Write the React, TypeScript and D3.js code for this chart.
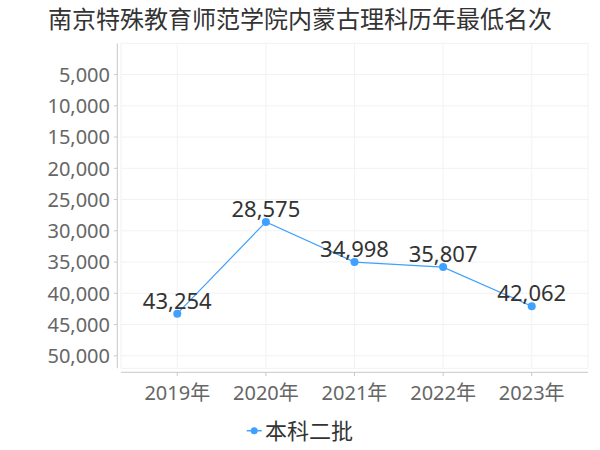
import React from "react";
import * as d3 from "d3";

const title = "南京特殊教育师范学院内蒙古理科历年最低名次";
const categories = ["2019年", "2020年", "2021年", "2022年", "2023年"];
const seriesName = "本科二批";
const values = [43254, 28575, 34998, 35807, 42062];
const yTicks = [5000, 10000, 15000, 20000, 25000, 30000, 35000, 40000, 45000, 50000];

const FONT = "'Noto Sans', 'Noto Sans CJK SC', sans-serif";
const COLOR = "#3fa0ff";

export default function App() {
  const left = 121, right = 588, top = 43.3, bottom = 368.3;
  const x = d3.scalePoint<string>().domain(categories).range([left, right]).padding(0.635);
  const y = d3.scaleLinear().domain([0, 52000]).range([top, bottom]);
  const fmt = d3.format(",");
  const line = d3
    .line<number>()
    .x((_, i) => x(categories[i]) as number)
    .y((d) => y(d));

  return (
    <svg
      width={600}
      height={450}
      style={{ position: "absolute", left: 0, top: 0, background: "#fff" }}
      fontFamily={FONT}
    >
      <text x={300} y={28} textAnchor="middle" fontSize={24} fill="#333">
        {title}
      </text>
      {/* plot frame */}
      <rect x={left} y={top} width={right - left} height={bottom - top} fill="none" stroke="#f2f2f2" />
      {yTicks.map((t) => (
        <line key={"g" + t} x1={left} x2={right} y1={y(t)} y2={y(t)} stroke="#f2f2f2" />
      ))}
      {categories.map((c) => (
        <line key={"v" + c} x1={x(c)} x2={x(c)} y1={top} y2={bottom} stroke="#f2f2f2" />
      ))}
      {/* y axis */}
      <line x1={117.3} x2={117.3} y1={top} y2={bottom} stroke="#c8c8c8" />
      {yTicks.map((t) => (
        <g key={"yt" + t}>
          <line x1={114} x2={117.3} y1={y(t)} y2={y(t)} stroke="#c8c8c8" />
          <text x={110} y={y(t)} dy="0.36em" textAnchor="end" fontSize={20} fill="#666">
            {fmt(t)}
          </text>
        </g>
      ))}
      {/* x axis */}
      <line x1={left} x2={right} y1={372.3} y2={372.3} stroke="#c8c8c8" />
      {categories.map((c) => (
        <g key={"xt" + c}>
          <line x1={x(c)} x2={x(c)} y1={372.3} y2={376} stroke="#c8c8c8" />
          <text x={x(c)} y={400} textAnchor="middle" fontSize={20} fill="#666">
            {c}
          </text>
        </g>
      ))}
      {/* series */}
      <path d={line(values) || ""} fill="none" stroke={COLOR} strokeWidth={1.2} />
      {values.map((v, i) => (
        <circle key={"p" + i} cx={x(categories[i])} cy={y(v)} r={4} fill={COLOR} />
      ))}
      {values.map((v, i) => (
        <text
          key={"l" + i}
          x={x(categories[i])}
          y={y(v) - 5}
          textAnchor="middle"
          fontSize={22}
          fill="#333"
        >
          {fmt(v)}
        </text>
      ))}
      {/* legend */}
      <line x1={246.7} x2={261.7} y1={430.7} y2={430.7} stroke={COLOR} strokeWidth={1.5} />
      <circle cx={254.2} cy={430.7} r={3.5} fill={COLOR} />
      <text x={265} y={439} fontSize={22} fill="#333">
        {seriesName}
      </text>
    </svg>
  );
}
